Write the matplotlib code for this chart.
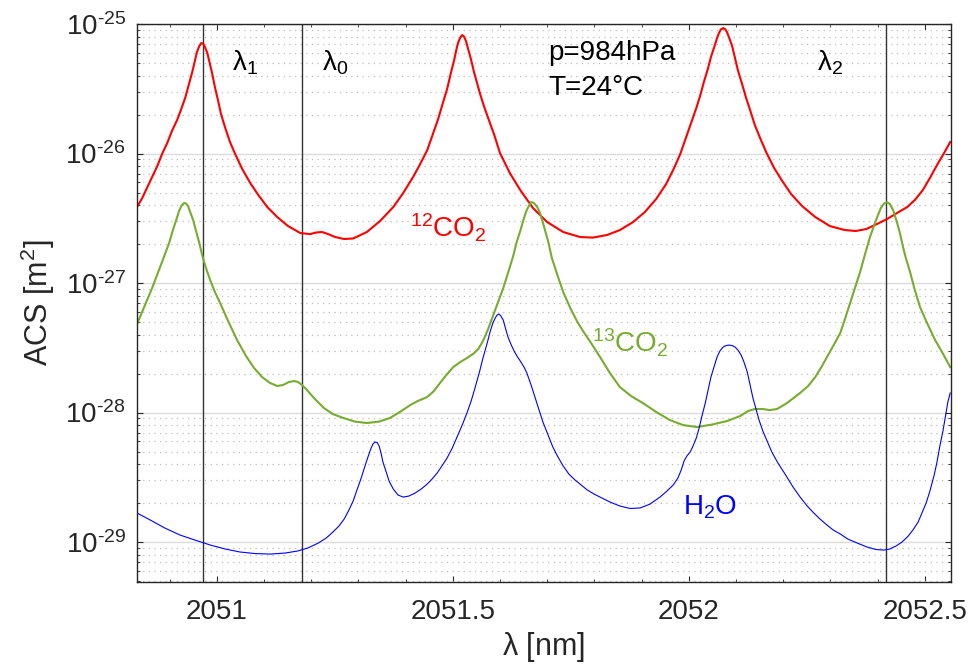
import numpy as np
import matplotlib
matplotlib.use('Agg')
import matplotlib.pyplot as plt
from matplotlib.ticker import MultipleLocator, FixedLocator, FixedFormatter, NullFormatter

plt.rcParams['font.family'] = ['Liberation Sans', 'DejaVu Sans']
plt.rcParams['mathtext.fontset'] = 'custom'
plt.rcParams['mathtext.rm'] = 'Liberation Sans'
plt.rcParams['mathtext.it'] = 'Liberation Sans'
plt.rcParams['mathtext.default'] = 'regular'
plt.rcParams['axes.unicode_minus'] = False

# wavelength [nm] and log10 of the absorption cross section [m^2]
co2_12_wl = [2050.831, 2050.842, 2050.852, 2050.863, 2050.874, 2050.884, 2050.895, 2050.905, 2050.916, 2050.924,
             2050.933, 2050.941, 2050.948, 2050.954, 2050.958, 2050.963, 2050.967, 2050.971, 2050.975, 2050.980,
             2050.984, 2050.990, 2050.996, 2051.003, 2051.009, 2051.018, 2051.028, 2051.039, 2051.054, 2051.071,
             2051.088, 2051.107, 2051.128, 2051.151, 2051.177, 2051.198, 2051.210, 2051.223, 2051.236, 2051.251,
             2051.270, 2051.289, 2051.318, 2051.346, 2051.374, 2051.395, 2051.416, 2051.431, 2051.446, 2051.458,
             2051.469, 2051.479, 2051.488, 2051.496, 2051.503, 2051.507, 2051.511, 2051.516, 2051.520, 2051.524,
             2051.528, 2051.532, 2051.539, 2051.545, 2051.552, 2051.558, 2051.566, 2051.575, 2051.588, 2051.600,
             2051.621, 2051.643, 2051.670, 2051.700, 2051.734, 2051.770, 2051.797, 2051.827, 2051.854, 2051.882,
             2051.907, 2051.931, 2051.952, 2051.969, 2051.982, 2051.994, 2052.005, 2052.016, 2052.024, 2052.032,
             2052.041, 2052.047, 2052.054, 2052.060, 2052.064, 2052.068, 2052.073, 2052.077, 2052.081, 2052.085,
             2052.092, 2052.098, 2052.104, 2052.113, 2052.121, 2052.130, 2052.140, 2052.153, 2052.166, 2052.181,
             2052.198, 2052.217, 2052.240, 2052.268, 2052.299, 2052.331, 2052.354, 2052.376, 2052.399, 2052.420,
             2052.441, 2052.463, 2052.479, 2052.496, 2052.511, 2052.526, 2052.541, 2052.554]
co2_12_log = [-26.413, -26.344, -26.266, -26.181, -26.097, -26.004, -25.919, -25.826, -25.741, -25.664,
              -25.571, -25.463, -25.371, -25.278, -25.216, -25.170, -25.147, -25.151, -25.178, -25.224,
              -25.286, -25.378, -25.486, -25.595, -25.695, -25.803, -25.911, -26.004, -26.120, -26.228,
              -26.320, -26.413, -26.490, -26.560, -26.614, -26.622, -26.610, -26.606, -26.622, -26.645,
              -26.660, -26.656, -26.606, -26.521, -26.413, -26.305, -26.181, -26.081, -25.973, -25.849,
              -25.734, -25.610, -25.502, -25.378, -25.278, -25.208, -25.147, -25.104, -25.085, -25.097,
              -25.131, -25.185, -25.278, -25.371, -25.463, -25.541, -25.633, -25.726, -25.857, -25.996,
              -26.151, -26.282, -26.421, -26.529, -26.606, -26.645, -26.649, -26.629, -26.591, -26.529,
              -26.452, -26.351, -26.236, -26.112, -26.004, -25.880, -25.764, -25.649, -25.556, -25.448,
              -25.340, -25.255, -25.178, -25.108, -25.070, -25.042, -25.031, -25.039, -25.062, -25.100,
              -25.170, -25.263, -25.355, -25.463, -25.564, -25.664, -25.780, -25.896, -26.004, -26.112,
              -26.212, -26.313, -26.405, -26.490, -26.560, -26.591, -26.598, -26.583, -26.544, -26.506,
              -26.460, -26.413, -26.359, -26.282, -26.189, -26.089, -25.996, -25.911]

co2_13_wl = [2050.831, 2050.848, 2050.863, 2050.876, 2050.888, 2050.899, 2050.907, 2050.914, 2050.920, 2050.926,
             2050.931, 2050.935, 2050.939, 2050.943, 2050.950, 2050.956, 2050.963, 2050.969, 2050.977, 2050.986,
             2050.996, 2051.007, 2051.024, 2051.043, 2051.062, 2051.079, 2051.096, 2051.113, 2051.128, 2051.140,
             2051.153, 2051.164, 2051.172, 2051.181, 2051.191, 2051.208, 2051.227, 2051.246, 2051.268, 2051.293,
             2051.318, 2051.344, 2051.367, 2051.388, 2051.410, 2051.426, 2051.446, 2051.460, 2051.473, 2051.488,
             2051.501, 2051.516, 2051.530, 2051.543, 2051.554, 2051.564, 2051.575, 2051.585, 2051.596, 2051.607,
             2051.617, 2051.628, 2051.636, 2051.643, 2051.649, 2051.655, 2051.660, 2051.666, 2051.670, 2051.674,
             2051.679, 2051.685, 2051.693, 2051.702, 2051.710, 2051.721, 2051.734, 2051.749, 2051.763, 2051.776,
             2051.793, 2051.812, 2051.833, 2051.854, 2051.878, 2051.903, 2051.931, 2051.960, 2051.988, 2052.018,
             2052.049, 2052.081, 2052.109, 2052.126, 2052.140, 2052.157, 2052.172, 2052.187, 2052.208, 2052.236,
             2052.253, 2052.268, 2052.280, 2052.293, 2052.306, 2052.321, 2052.331, 2052.342, 2052.352, 2052.363,
             2052.373, 2052.384, 2052.393, 2052.401, 2052.407, 2052.414, 2052.420, 2052.426, 2052.433, 2052.441,
             2052.448, 2052.454, 2052.460, 2052.469, 2052.479, 2052.490, 2052.505, 2052.522, 2052.539, 2052.554]
co2_13_log = [-27.317, -27.170, -27.039, -26.915, -26.799, -26.691, -26.591, -26.514, -26.444, -26.398,
              -26.382, -26.386, -26.405, -26.444, -26.514, -26.598, -26.691, -26.784, -26.884, -26.977,
              -27.069, -27.154, -27.293, -27.440, -27.564, -27.656, -27.726, -27.772, -27.795, -27.788,
              -27.764, -27.757, -27.764, -27.788, -27.826, -27.896, -27.965, -28.012, -28.042, -28.070,
              -28.081, -28.070, -28.042, -27.996, -27.942, -27.911, -27.880, -27.834, -27.772, -27.703,
              -27.649, -27.610, -27.579, -27.548, -27.510, -27.448, -27.355, -27.255, -27.147, -27.039,
              -26.923, -26.792, -26.676, -26.598, -26.521, -26.452, -26.413, -26.375, -26.378, -26.390,
              -26.413, -26.460, -26.560, -26.676, -26.807, -26.931, -27.069, -27.193, -27.293, -27.371,
              -27.463, -27.571, -27.695, -27.803, -27.873, -27.927, -27.996, -28.058, -28.097, -28.112,
              -28.093, -28.066, -28.027, -27.988, -27.973, -27.973, -27.981, -27.973, -27.927, -27.849,
              -27.795, -27.726, -27.656, -27.571, -27.486, -27.386, -27.278, -27.154, -27.039, -26.915,
              -26.784, -26.645, -26.552, -26.475, -26.421, -26.386, -26.375, -26.390, -26.436, -26.529,
              -26.622, -26.722, -26.807, -26.915, -27.054, -27.185, -27.309, -27.440, -27.548, -27.649]

h2o_wl = [2050.831, 2050.859, 2050.890, 2050.922, 2050.954, 2050.986, 2051.018, 2051.049, 2051.081, 2051.113,
          2051.145, 2051.172, 2051.193, 2051.215, 2051.232, 2051.246, 2051.259, 2051.270, 2051.280, 2051.289,
          2051.297, 2051.306, 2051.314, 2051.321, 2051.327, 2051.331, 2051.335, 2051.340, 2051.344, 2051.348,
          2051.352, 2051.359, 2051.365, 2051.374, 2051.384, 2051.395, 2051.407, 2051.420, 2051.433, 2051.446,
          2051.456, 2051.467, 2051.477, 2051.488, 2051.499, 2051.509, 2051.520, 2051.530, 2051.539, 2051.547,
          2051.556, 2051.564, 2051.573, 2051.579, 2051.585, 2051.590, 2051.594, 2051.598, 2051.602, 2051.607,
          2051.611, 2051.617, 2051.624, 2051.630, 2051.636, 2051.643, 2051.651, 2051.657, 2051.666, 2051.674,
          2051.683, 2051.691, 2051.702, 2051.712, 2051.723, 2051.734, 2051.746, 2051.759, 2051.772, 2051.785,
          2051.799, 2051.812, 2051.833, 2051.854, 2051.876, 2051.897, 2051.918, 2051.939, 2051.954, 2051.967,
          2051.977, 2051.984, 2051.990, 2051.996, 2052.003, 2052.009, 2052.016, 2052.022, 2052.028, 2052.035,
          2052.041, 2052.047, 2052.054, 2052.060, 2052.066, 2052.073, 2052.079, 2052.085, 2052.092, 2052.098,
          2052.104, 2052.111, 2052.117, 2052.124, 2052.130, 2052.136, 2052.143, 2052.149, 2052.157, 2052.166,
          2052.176, 2052.189, 2052.204, 2052.221, 2052.236, 2052.251, 2052.265, 2052.278, 2052.293, 2052.306,
          2052.321, 2052.337, 2052.357, 2052.378, 2052.397, 2052.414, 2052.426, 2052.439, 2052.452, 2052.465,
          2052.475, 2052.486, 2052.494, 2052.503, 2052.511, 2052.520, 2052.526, 2052.532, 2052.539, 2052.545,
          2052.549, 2052.554]
h2o_log = [-28.776, -28.830, -28.892, -28.946, -28.985, -29.023, -29.054, -29.077, -29.089, -29.093,
           -29.085, -29.069, -29.046, -29.008, -28.969, -28.923, -28.876, -28.822, -28.753, -28.683,
           -28.598, -28.506, -28.413, -28.336, -28.274, -28.243, -28.228, -28.232, -28.259, -28.313,
           -28.382, -28.459, -28.529, -28.591, -28.637, -28.653, -28.645, -28.622, -28.591, -28.552,
           -28.514, -28.467, -28.413, -28.351, -28.274, -28.189, -28.097, -28.004, -27.911, -27.811,
           -27.695, -27.579, -27.463, -27.378, -27.309, -27.270, -27.247, -27.239, -27.255, -27.286,
           -27.340, -27.417, -27.479, -27.525, -27.564, -27.602, -27.649, -27.695, -27.788, -27.880,
           -27.981, -28.073, -28.174, -28.266, -28.344, -28.413, -28.475, -28.521, -28.560, -28.598,
           -28.629, -28.653, -28.691, -28.722, -28.741, -28.737, -28.707, -28.653, -28.606, -28.560,
           -28.506, -28.444, -28.375, -28.336, -28.305, -28.259, -28.197, -28.120, -28.027, -27.927,
           -27.826, -27.726, -27.641, -27.571, -27.525, -27.494, -27.483, -27.479, -27.483, -27.494,
           -27.517, -27.556, -27.610, -27.687, -27.788, -27.888, -27.981, -28.058, -28.143, -28.220,
           -28.305, -28.390, -28.475, -28.575, -28.653, -28.722, -28.776, -28.822, -28.869, -28.907,
           -28.938, -28.977, -29.008, -29.039, -29.058, -29.062, -29.054, -29.031, -29.000, -28.954,
           -28.907, -28.846, -28.776, -28.699, -28.606, -28.483, -28.382, -28.259, -28.135, -28.004,
           -27.919, -27.849]

# marked wavelengths
lam_names = ['$\\lambda_1$', '$\\lambda_0$', '$\\lambda_2$']
lam_pos = [2050.970, 2051.180, 2052.418]

xtick_vals = [2051, 2051.5, 2052, 2052.5]
xtick_labels = ['2051', '2051.5', '2052', '2052.5']
decade_exp = [29, 28, 27, 26, 25]
decades = [10.0 ** -e for e in decade_exp]

red = '#FF0000'
green = '#77AC30'
blue = '#0000FF'
axcol = '#262626'

fig = plt.figure(figsize=(9.69, 6.68), dpi=100)
ax = fig.add_axes([0.1414, 0.1287, 0.8397, 0.8353])

ax.plot(co2_12_wl, 10.0 ** np.array(co2_12_log), color=red, lw=1.5)
ax.plot(co2_13_wl, 10.0 ** np.array(co2_13_log), color=green, lw=1.5)
ax.plot(h2o_wl, 10.0 ** np.array(h2o_log), color=blue, lw=0.8)

for xv in lam_pos:
    ax.axvline(xv, color='#333333', lw=1.0, zorder=1)

ax.set_yscale('log')
ymin, ymax = 4.91e-30, 1e-25
ax.set_xlim(2050.831, 2052.555)
ax.set_ylim(ymin, ymax)

minor_y = [m * d for d in [1e-30] + decades for m in range(2, 10) if ymin <= m * d <= ymax]
ax.xaxis.set_major_locator(FixedLocator(xtick_vals))
ax.xaxis.set_major_formatter(FixedFormatter(xtick_labels))
ax.xaxis.set_minor_locator(MultipleLocator(0.1))
ax.yaxis.set_major_locator(FixedLocator(decades))
ax.yaxis.set_major_formatter(FixedFormatter(['$10^{\\text{-}%d}$' % e for e in decade_exp]))
ax.yaxis.set_minor_locator(FixedLocator(minor_y))
ax.yaxis.set_minor_formatter(NullFormatter())

ax.grid(True, which='major', axis='y', color='#dcdcdc', lw=1.0, ls='-')
ax.grid(True, which='minor', axis='y', color='#bdbdbd', lw=0.9, ls=(0, (1, 3.5)))
ax.set_axisbelow(True)

ax.tick_params(which='both', direction='in', top=True, right=True, colors=axcol, labelcolor=axcol)
ax.tick_params(which='major', length=4, width=0.8, labelsize=20)
ax.tick_params(which='minor', length=2.5, width=0.6)
ax.tick_params(axis='x', which='major', pad=12)
ax.tick_params(axis='y', which='major', pad=8)
for s in ax.spines.values():
    s.set_color(axcol)
    s.set_linewidth(1.0)

ax.set_xlabel('$\\lambda$ [nm]', fontsize=22, color=axcol, labelpad=4)
ax.set_ylabel('ACS [m$^2$]', fontsize=22, color=axcol, labelpad=6)

# labels
lam_text_x = [2051.032, 2051.223, 2052.272]
for name, tx in zip(lam_names, lam_text_x):
    ax.text(tx, 4.4e-26, name, fontsize=20, color='black', va='baseline', ha='left')

ax.text(2051.702, 5.27e-26, 'p=984hPa', fontsize=20, color='black', va='baseline', ha='left')
ax.text(2051.702, 2.83e-26, 'T=24°C', fontsize=20, color='black', va='baseline', ha='left')
ax.text(2051.410, 2.26e-27, '$^{12}$CO$_2$', fontsize=20, color=red, va='baseline', ha='left')
ax.text(2051.795, 2.93e-28, '$^{13}$CO$_2$', fontsize=20, color=green, va='baseline', ha='left')
ax.text(2051.988, 1.62e-29, 'H$_2$O', fontsize=20, color=blue, va='baseline', ha='left')

fig.savefig('out.png', dpi=100)
